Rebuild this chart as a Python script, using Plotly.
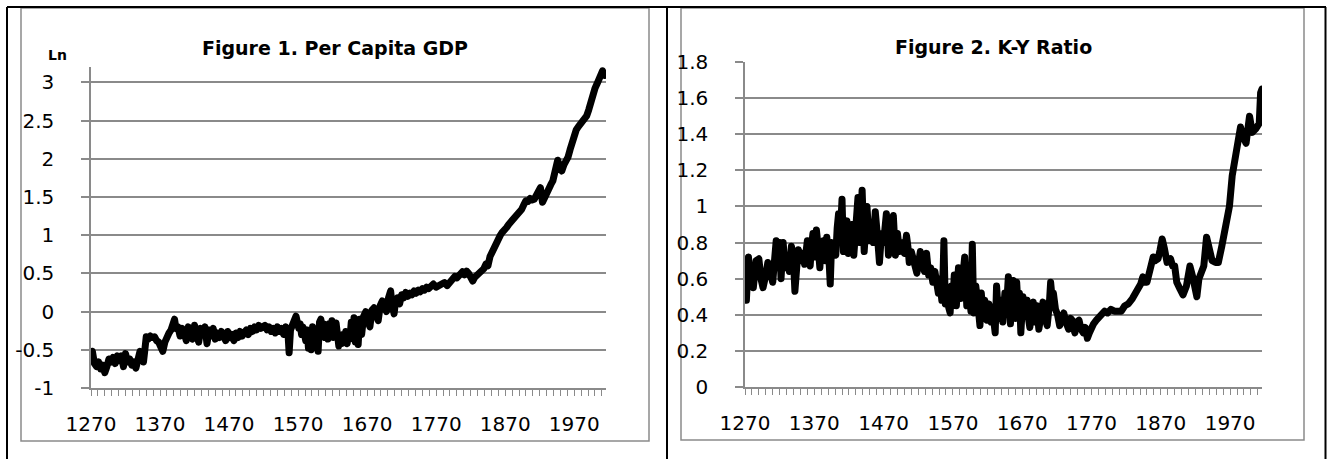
import plotly.graph_objects as go

W, H = 1327, 459

# ---------------- data ----------------
gdp_years = [1270,1272,1275,1278,1281,1284,1287,1290,1293,1296,1299,1302,1305,1308,1311,1314,1317,1320,1323,1326,
             1329,1332,1335,1338,1341,1344,1346,1348,1350,1353,1356,1359,1362,1365,1368,1371,1374,1377,1380,1383,
             1386,1389,1391,1393,1396,1399,1402,1405,1408,1411,1414,1417,1420,1423,1426,1429,1432,1435,1438,1441,
             1444,1447,1450,1453,1456,1459,1462,1465,1468,1471,1474,1477,1480,1483,1486,1489,1492,1495,1498,1501,
             1504,1507,1510,1513,1516,1519,1522,1525,1528,1531,1534,1537,1540,1543,1546,1549,1552,1555,1557,1559,
             1562,1565,1567,1569,1571,1573,1575,1577,1579,1581,1583,1585,1587,1589,1591,1593,1595,1597,1599,1601,
             1603,1605,1607,1609,1611,1613,1615,1617,1619,1621,1623,1625,1627,1629,1631,1633,1635,1637,1639,1641,
             1643,1645,1647,1649,1651,1653,1655,1657,1659,1662,1665,1668,1671,1674,1677,1680,1683,1686,1689,1692,
             1695,1698,1701,1704,1706,1709,1711,1714,1717,1720,1723,1726,1729,1732,1735,1738,1741,1744,1747,1750,
             1753,1756,1759,1762,1766,1770,1774,1778,1782,1786,1790,1794,1797,1800,1803,1806,1808,1811,1814,1817,
             1820,1823,1826,1830,1833,1836,1839,1842,1845,1848,1851,1854,1857,1860,1863,1866,1869,1872,1875,1878,
             1881,1884,1887,1891,1894,1897,1900,1903,1906,1909,1912,1915,1918,1921,1924,1927,1930,1933,1936,1939,
             1942,1944,1946,1949,1952,1955,1958,1961,1964,1967,1970,1973,1976,1979,1982,1985,1988,1991,1994,1997,
             2000,2003,2006,2009,2011,2014,2016]
gdp_values = [-0.62,-0.52,-0.68,-0.72,-0.66,-0.75,-0.70,-0.80,-0.72,-0.62,-0.66,-0.60,-0.68,-0.58,-0.64,-0.58,-0.72,-0.55,-0.66,-0.62,
              -0.70,-0.66,-0.74,-0.60,-0.52,-0.58,-0.66,-0.50,-0.33,-0.36,-0.32,-0.34,-0.33,-0.38,-0.40,-0.46,-0.52,-0.40,-0.32,-0.28,
              -0.24,-0.18,-0.10,-0.22,-0.20,-0.32,-0.22,-0.28,-0.38,-0.20,-0.26,-0.36,-0.18,-0.30,-0.40,-0.22,-0.30,-0.20,-0.42,-0.24,
              -0.32,-0.22,-0.36,-0.28,-0.34,-0.26,-0.32,-0.38,-0.26,-0.34,-0.30,-0.38,-0.28,-0.34,-0.26,-0.32,-0.28,-0.24,-0.30,-0.22,
              -0.26,-0.20,-0.24,-0.18,-0.22,-0.20,-0.18,-0.24,-0.20,-0.26,-0.22,-0.28,-0.20,-0.26,-0.22,-0.30,-0.20,-0.24,-0.54,-0.24,
              -0.18,-0.10,-0.06,-0.14,-0.22,-0.16,-0.30,-0.20,-0.26,-0.38,-0.24,-0.48,-0.30,-0.50,-0.20,-0.28,-0.40,-0.22,-0.52,-0.14,
              -0.10,-0.30,-0.16,-0.34,-0.22,-0.36,-0.16,-0.30,-0.12,-0.34,-0.24,-0.15,-0.30,-0.45,-0.34,-0.42,-0.30,-0.38,-0.26,-0.42,
              -0.30,-0.36,-0.14,-0.34,-0.08,-0.40,-0.24,-0.43,-0.10,-0.30,-0.06,0.00,-0.12,-0.20,0.02,0.05,-0.04,-0.12,0.08,0.14,
              0.06,0.00,0.18,0.27,0.10,-0.03,0.12,0.18,0.10,0.22,0.18,0.25,0.20,0.24,0.22,0.27,0.24,0.28,0.26,0.30,
              0.28,0.32,0.30,0.34,0.36,0.32,0.34,0.36,0.38,0.34,0.38,0.42,0.46,0.44,0.48,0.50,0.52,0.48,0.53,0.50,
              0.46,0.40,0.45,0.48,0.50,0.52,0.56,0.62,0.60,0.72,0.78,0.84,0.93,0.98,1.00,1.04,1.06,1.10,1.14,1.17,
              1.18,1.24,1.26,1.28,1.34,1.40,1.45,1.44,1.48,1.46,1.47,1.52,1.56,1.62,1.43,1.50,1.58,1.62,1.66,1.71,
              1.80,1.90,1.98,1.88,1.84,1.92,1.97,2.02,2.12,2.22,2.32,2.38,2.42,2.45,2.50,2.52,2.56,2.64,2.76,2.84,
              2.92,2.98,3.06,3.12,3.15,3.09,3.11]

ky_years = [1270,1272,1275,1278,1280,1282,1286,1290,1293,1296,
            1300,1303,1306,1310,1313,1315,1317,1320,1322,1325,
            1328,1331,1334,1337,1340,1342,1345,1347,1350,1353,
            1356,1358,1360,1362,1364,1366,1368,1370,1373,1375,
            1378,1380,1383,1386,1388,1391,1393,1395,1398,1401,
            1403,1405,1407,1410,1412,1414,1417,1419,1422,1424,
            1427,1430,1433,1436,1439,1442,1444,1446,1449,1452,
            1455,1458,1461,1464,1467,1470,1474,1477,1480,1484,
            1487,1490,1493,1496,1500,1503,1505,1507,1510,1513,
            1516,1518,1521,1523,1526,1529,1532,1535,1538,1541,
            1544,1547,1549,1551,1554,1556,1557,1559,1562,1564,
            1566,1568,1570,1572,1575,1578,1581,1584,1587,1590,
            1593,1596,1598,1600,1603,1606,1609,1611,1613,1616,
            1619,1622,1625,1628,1631,1633,1636,1639,1642,1645,
            1647,1650,1653,1655,1657,1660,1662,1664,1666,1668,
            1671,1674,1677,1679,1681,1684,1686,1688,1691,1694,
            1697,1700,1703,1706,1709,1711,1713,1715,1718,1721,
            1724,1727,1730,1733,1737,1740,1742,1744,1746,1749,
            1752,1755,1758,1761,1764,1767,1770,1773,1777,1780,
            1784,1789,1793,1798,1803,1808,1813,1818,1823,1829,
            1834,1838,1841,1844,1847,1850,1853,1856,1859,1862,
            1866,1869,1872,1875,1879,1884,1887,1890,1893,1898,
            1902,1907,1912,1916,1919,1922,1925,1927,1932,1936,
            1940,1944,1949,1953,1958,1963,1966,1969,1973,1977,
            1981,1985,1988,1993,1998,2002,2007,2012,2014,2016]
ky_values = [0.60,0.48,0.72,0.58,0.66,0.55,0.70,0.71,0.60,0.55,
             0.62,0.69,0.64,0.58,0.72,0.81,0.66,0.80,0.60,0.80,
             0.66,0.72,0.64,0.78,0.70,0.53,0.68,0.76,0.70,0.74,
             0.68,0.77,0.81,0.70,0.67,0.78,0.85,0.72,0.87,0.80,
             0.66,0.78,0.81,0.70,0.83,0.72,0.57,0.80,0.74,0.73,
             0.88,0.96,0.80,1.04,0.75,0.86,0.92,0.74,0.82,0.90,
             0.73,0.86,1.05,0.80,1.09,0.75,0.95,1.00,0.81,0.90,
             0.80,0.97,0.84,0.69,0.85,0.80,0.96,0.73,0.88,0.95,
             0.73,0.85,0.75,0.80,0.74,0.84,0.78,0.69,0.75,0.70,
             0.66,0.63,0.70,0.75,0.68,0.64,0.74,0.62,0.66,0.58,
             0.64,0.55,0.52,0.60,0.48,0.66,0.81,0.46,0.52,0.44,
             0.41,0.56,0.48,0.62,0.45,0.66,0.49,0.60,0.72,0.45,
             0.54,0.42,0.79,0.41,0.56,0.46,0.34,0.52,0.40,0.48,
             0.37,0.46,0.36,0.40,0.30,0.56,0.38,0.48,0.36,0.52,
             0.42,0.61,0.35,0.50,0.59,0.38,0.58,0.44,0.52,0.30,
             0.50,0.40,0.48,0.38,0.33,0.44,0.47,0.36,0.45,0.32,
             0.40,0.47,0.38,0.34,0.45,0.58,0.50,0.52,0.43,0.40,
             0.34,0.38,0.41,0.36,0.32,0.38,0.37,0.33,0.30,0.36,
             0.37,0.32,0.30,0.33,0.27,0.30,0.33,0.35,0.37,0.38,
             0.40,0.42,0.41,0.43,0.42,0.42,0.42,0.45,0.46,0.49,
             0.52,0.54,0.57,0.61,0.58,0.58,0.62,0.65,0.72,0.70,
             0.71,0.76,0.82,0.77,0.69,0.71,0.67,0.67,0.58,0.54,
             0.51,0.56,0.67,0.61,0.56,0.50,0.60,0.63,0.67,0.83,
             0.78,0.70,0.69,0.69,0.78,0.89,0.94,1.00,1.17,1.28,
             1.35,1.44,1.39,1.35,1.50,1.41,1.43,1.46,1.63,1.65]

gdp_ticks = [3, 2.5, 2, 1.5, 1, 0.5, 0, -0.5, -1]
gdp_tick_labels = ["3", "2.5", "2", "1.5", "1", "0.5", "0", "-0.5", "-1"]
ky_ticks = [1.8, 1.6, 1.4, 1.2, 1.0, 0.8, 0.6, 0.4, 0.2, 0]
ky_tick_labels = ["1.8", "1.6", "1.4", "1.2", "1", "0.8", "0.6", "0.4", "0.2", "0"]
year_ticks = [1270, 1370, 1470, 1570, 1670, 1770, 1870, 1970]
year_tick_labels = ["1270", "1370", "1470", "1570", "1670", "1770", "1870", "1970"]

titles = ["Figure 1. Per Capita GDP", "Figure 2. K-Y Ratio"]
y_unit_label = "Ln"

# ---------------- helpers ----------------
def px(x):
    return x / W

def py(y):
    return 1 - y / H

FONT = "DejaVu Sans"
GRAY = "#8a8a8a"

fig = go.Figure()
fig.add_trace(go.Scatter(x=gdp_years, y=gdp_values, mode="lines",
                         line=dict(color="black", width=7), xaxis="x", yaxis="y",
                         showlegend=False, hoverinfo="skip"))
fig.add_trace(go.Scatter(x=ky_years, y=ky_values, mode="lines",
                         line=dict(color="black", width=7), xaxis="x2", yaxis="y2",
                         showlegend=False, hoverinfo="skip"))

def xaxis_cfg(domain, anchor):
    return dict(domain=domain, anchor=anchor, range=[1270, 2016], automargin=False,
                tickmode="array", tickvals=year_ticks, ticktext=year_tick_labels,
                ticks="outside", ticklen=6, tickwidth=1.2, tickcolor=GRAY,
                minor=dict(tick0=1270, dtick=10, ticks="outside", ticklen=6,
                           tickwidth=1.2, tickcolor=GRAY, showgrid=False),
                showline=True, linecolor=GRAY, linewidth=1.5,
                showgrid=False, zeroline=False,
                tickfont=dict(family=FONT, size=20, color="black"),
                ticklabelstandoff=11, fixedrange=True)

def yaxis_cfg(domain, anchor, rng, tv, tt):
    return dict(domain=domain, anchor=anchor, range=rng, automargin=False,
                tickmode="array", tickvals=tv, ticktext=tt,
                ticks="outside", ticklen=8, tickwidth=1.5, tickcolor=GRAY,
                showline=True, linecolor=GRAY, linewidth=1.5,
                showgrid=True, gridcolor=GRAY, gridwidth=1.5, zeroline=False,
                tickfont=dict(family=FONT, size=20, color="black"),
                ticklabelstandoff=23, fixedrange=True)

fig.update_layout(
    template="none",
    width=W, height=H, margin=dict(l=0, r=0, t=0, b=0, pad=0), autosize=False,
    paper_bgcolor="white", plot_bgcolor="white",
    xaxis=xaxis_cfg([px(91), px(606)], "y"),
    yaxis=yaxis_cfg([py(388), py(67)], "x", [-1, 3.2], gdp_ticks, gdp_tick_labels),
    xaxis2=xaxis_cfg([px(745), px(1262)], "y2"),
    yaxis2=yaxis_cfg([py(387), py(62)], "x2", [0, 1.8], ky_ticks, ky_tick_labels),
)

# titles
fig.add_annotation(x=px(335), y=py(48), xref="paper", yref="paper", text="<b>" + titles[0] + "</b>",
                   showarrow=False, font=dict(family=FONT, size=19, color="black"),
                   xanchor="center", yanchor="middle")
fig.add_annotation(x=px(993), y=py(47), xref="paper", yref="paper", text="<b>" + titles[1] + "</b>",
                   showarrow=False, font=dict(family=FONT, size=19, color="black"),
                   xanchor="center", yanchor="middle")
fig.add_annotation(x=px(57), y=py(55), xref="paper", yref="paper", text="<b>" + y_unit_label + "</b>",
                   showarrow=False, font=dict(family=FONT, size=14, color="black"),
                   xanchor="center", yanchor="middle")

# chart area borders (gray) and table borders (black)
shapes = []
for (x0, y0, x1, y1) in [(21, 8, 649, 441), (681, 8, 1304, 440)]:
    shapes.append(dict(type="rect", xref="paper", yref="paper",
                       x0=px(x0), x1=px(x1), y0=py(y1), y1=py(y0),
                       line=dict(color=GRAY, width=1.5), fillcolor="rgba(0,0,0,0)", layer="below"))
for (x0, y0, x1, y1) in [(7, 7, 1326, 7), (7, 7, 7, 459), (667, 7, 667, 459), (1325.5, 7, 1325.5, 459)]:
    shapes.append(dict(type="line", xref="paper", yref="paper",
                       x0=px(x0), x1=px(x1), y0=py(y0), y1=py(y1),
                       line=dict(color="black", width=2)))
fig.update_layout(shapes=shapes)

post = ("document.body.style.margin='0px';document.body.style.overflow='hidden';"
        "document.querySelectorAll('.scatterlayer .js-line').forEach(function(p){"
        "p.style.strokeLinejoin='round';p.style.strokeLinecap='round';});")
fig.write_html("out.html", config={"displayModeBar": False}, post_script=post)
